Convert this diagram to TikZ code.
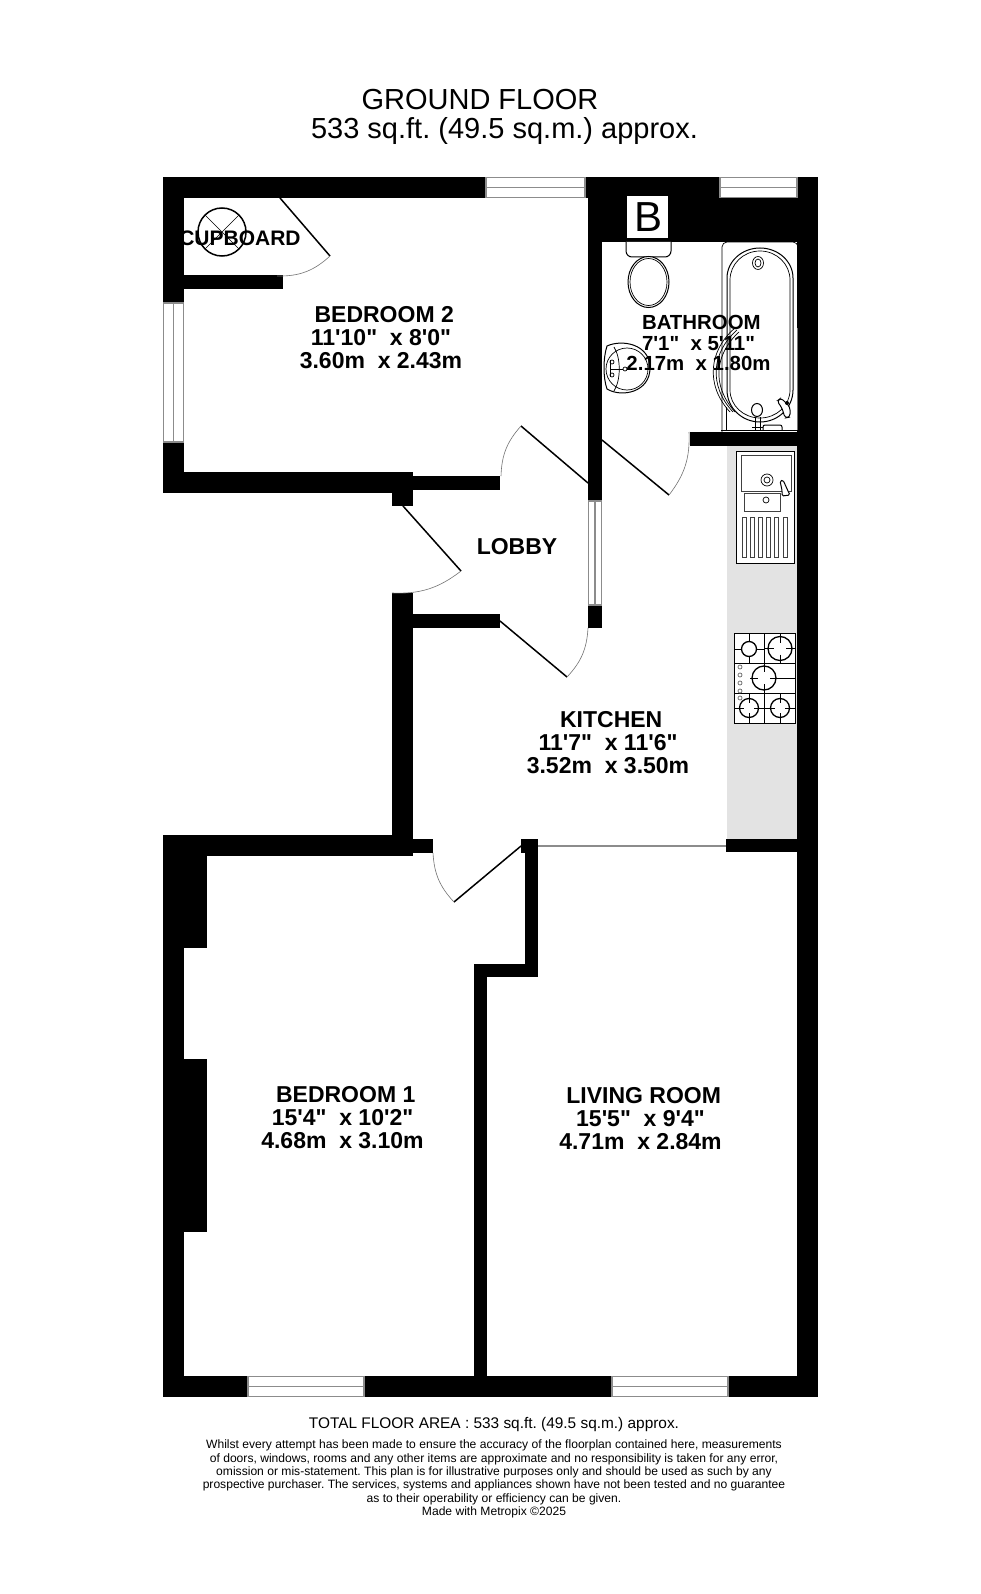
\documentclass[tikz,border=0pt]{standalone}
\usepackage{fontspec}
\newfontfamily\planfont{Liberation Sans}
\tikzset{
	wall/.style    = {fill=black},
	window/.style  = {draw=black!45, fill=white, line width=1.4pt},
	sill/.style    = {draw=black!45, line width=1.4pt},
	leaf/.style    = {draw=black, line width=1.5pt},
	swing/.style   = {draw=black!55, line width=0.6pt},
	fitting/.style = {draw=black, line width=1pt, fill=white},
	thin fit/.style= {draw=black, line width=0.7pt},
	room/.style    = {font=\planfont\bfseries\fontsize{23}{23}\selectfont, align=center, inner sep=0pt},
	small room/.style = {room, font=\planfont\bfseries\fontsize{20.4}{20.5}\selectfont},
	title/.style   = {font=\planfont\fontsize{29}{30}\selectfont, inner sep=0pt},
	note/.style    = {font=\planfont\fontsize{12.1}{13.4}\selectfont, align=center, inner sep=0pt}
}
\begin{document}
\frenchspacing
\begin{tikzpicture}[x=1pt, y=-1pt]
	\useasboundingbox (0,0) rectangle (980,1594);
	\fill[white] (0,0) rectangle (980,1594);
	% worktop
	\fill[black!11] (727,446) rectangle (797,839);
	% outer walls
	\fill[wall] (163,177) rectangle (818,198);
	\fill[wall] (163,177) rectangle (184,493);
	\fill[wall] (163,835) rectangle (184,1397);
	\fill[wall] (797,177) rectangle (818,1397);
	\fill[wall] (163,1376) rectangle (818,1397);
	% bedroom 2
	\fill[wall] (184,275) rectangle (283,289);
	\fill[wall] (163,472) rectangle (413,493);
	\fill[wall] (392,472) rectangle (413,506);
	\fill[wall] (413,476) rectangle (500,490);
	% bathroom and lobby
	\fill[wall] (588,177) rectangle (602,628);
	\fill[wall] (588,177) rectangle (818,242);
	\fill[wall] (690,432) rectangle (818,446);
	\fill[wall] (392,593) rectangle (413,856);
	\fill[wall] (413,614) rectangle (500,628);
	% bedroom 1 and living room
	\fill[wall] (163,835) rectangle (413,856);
	\fill[wall] (413,839) rectangle (433,853);
	\fill[wall] (184,856) rectangle (207,948);
	\fill[wall] (184,1059) rectangle (207,1232);
	\fill[wall] (521,839) rectangle (538,853);
	\fill[wall] (525,839) rectangle (538,977);
	\fill[wall] (474,964) rectangle (538,977);
	\fill[wall] (474,964) rectangle (487,1397);
	\fill[wall] (726,839) rectangle (797,852);
	\draw[sill] (538,846) -- (726,846);
	% windows
	\foreach \xa/\xb/\ya/\yb in {486/585/177.6/197.4, 720/797/177.6/197.4, 248/364/1376.6/1396.4, 612/728/1376.6/1396.4} {
		\draw[window] (\xa,\ya) rectangle (\xb,\yb);
		\draw[sill] (\xa,{(\ya+\yb)/2}) -- (\xb,{(\ya+\yb)/2});
	}
	\foreach \xa/\xb/\ya/\yb in {163.6/183.4/303/442, 588.6/601.4/501/605} {
		\draw[window] (\xa,\ya) rectangle (\xb,\yb);
		\draw[sill] ({(\xa+\xb)/2},\ya) -- ({(\xa+\xb)/2},\yb);
	}
	% doors
	\draw[leaf] (280,198) -- (330,256);
	\draw[swing] (330,256) to[bend left=22] (277,276);
	\draw[leaf] (588,483) -- (521,426);
	\draw[swing] (521,426) to[bend right=20] (501,476);
	\draw[leaf] (602,440) -- (669,495);
	\draw[swing] (669,495) to[bend right=20] (689,432);
	\draw[leaf] (403,506) -- (461,571);
	\draw[swing] (461,571) to[bend left=20] (392,593);
	\draw[leaf] (500,621) -- (567,677);
	\draw[swing] (567,677) to[bend right=20] (588,628);
	\draw[leaf] (521,846) -- (454,902);
	\draw[swing] (454,902) to[bend left=20] (433,853);
	% boiler and cupboard tank
	\draw[line width=1.5pt] (222,232) circle (24);
	\draw[line width=0.7pt] (205,215) -- (239,249) (239,215) -- (205,249);
	\fill[white] (627,196) rectangle (668,238);
	\node[font=\planfont\fontsize{42}{42}\selectfont, inner sep=0pt] (boiler) at (648,217) {B};
	% toilet
	\draw[fitting, rounded corners=6pt] (626,242) -- (626,257) -- (671,257) -- (671,242);
	\draw[fitting] (648.5,282) ellipse (20.5 and 25.5);
	\draw[thin fit] (648.5,282) ellipse (18.5 and 23.5);
	% basin
	\draw[fitting] (607,346) .. controls (622,339) and (650,344) .. (650,368) .. controls (650,392) and (622,398) .. (607,389) .. controls (603,378) and (603,358) .. (607,346) -- cycle;
	\draw[thin fit] (627,369) circle (21);
	\draw[thin fit] (614,347) .. controls (621,358) and (621,380) .. (614,391);
	\draw[thin fit] (610,369) -- (623,369);
	\draw[thin fit, fill=white] (612,362) circle (2) (612,375) circle (2) (625,369) circle (2);
	\draw[thin fit] (610,360) -- (610,377);
	% bath
	\draw[thin fit, rounded corners=5pt] (722,432) -- (722,242) -- (798,242) -- (798,432);
	\draw[fitting] (727,278) arc[start angle=180, end angle=360, x radius=33, y radius=30] -- (793,390) arc[start angle=0, end angle=180, x radius=33, y radius=32] -- cycle;
	\draw[thin fit] (730,280) arc[start angle=180, end angle=360, x radius=30, y radius=29] -- (790,390) arc[start angle=0, end angle=180, x radius=30, y radius=28] -- cycle;
	\draw[thin fit] (758,263) ellipse (5.5 and 6.5) (758,263) ellipse (3 and 4);
	\draw[fitting] (757,410) ellipse (5.5 and 6.5);
	\draw[thin fit] (755,417) -- (755,430) (760,417) -- (760,430) (752,427) -- (763,427);
	\draw[fitting, rounded corners=2pt] (763,430) -- (763,425) -- (782,425) -- (782,430);
	\draw[fitting, rounded corners=3pt] (777,401) -- (781,398) -- (790,407) -- (790,417) -- (785,418) -- (782,408) -- cycle;
	\fill (787,403) circle (2);
	\draw[thin fit] (726,407) -- (726,430);
	\draw[line width=1.2pt] (721,430.5) -- (797,430.5);
	\draw[draw=black!55, line width=0.9pt] (797,328) -- (797,430);
	\draw[thin fit] (737,330) .. controls (712,352) and (708,385) .. (733,412);
	\draw[thin fit] (739,332) .. controls (715,354) and (711,385) .. (735,412);
	\draw[thin fit] (735,328) .. controls (709,350) and (705,385) .. (730,412);
	% sink
	\draw[fitting] (736,451) rectangle (794,563);
	\draw[thin fit, draw=black!75, line width=1pt] (741,455) rectangle (791,491);
	\draw[thin fit, draw=black!75, line width=1pt] (744,493) rectangle (780,511);
	\draw[thin fit] (767,480) circle (6) (767,480) circle (3) (766,500) circle (3);
	\draw[fitting, rounded corners=1.5pt] (780,481) -- (783,480) -- (788,491) -- (790,495) -- (782,496) -- (782,490) -- cycle;
	\foreach \xa in {742,750,758,766,774,783} {
		\draw[thin fit, draw=black!75] (\xa,517) rectangle ++(4,40);
	}
	% hob
	\draw[fitting] (734,633) rectangle (795.5,723);
	\draw[thin fit] (764,633) -- (764,663) (764,693) -- (764,723) (734,663) -- (795.5,663) (734,693) -- (795.5,693);
	\foreach \cx/\cy/\rad/\tick/\xl/\xr/\yt/\yb in {749/649/7.5/7.5/734/764/633/663, 780/648.5/12/6/764/795/633/663, 764/678/12/6/750/795/663/693, 749/708/9.5/5/734/764/693/723, 780/708/9.5/5/764/795/693/723} {
		\draw[thin fit, line width=0.9pt] (\xl,\cy) -- ({\cx-\tick},\cy) ({\cx+\tick},\cy) -- (\xr,\cy) (\cx,\yt) -- (\cx,{\cy-\tick}) (\cx,{\cy+\tick}) -- (\cx,\yb);
		\draw[line width=1.3pt] (\cx,\cy) circle (\rad);
	}
	\foreach \ya in {667,675,683,691,698} {
		\draw[draw=black!60, line width=0.7pt, fill=white] (740,\ya) circle (2);
	}
	% titles
	\node[title] (ground) at (480,100) {GROUND FLOOR};
	\node[title] (area) at (504.5,131.5) {533 sq.ft. (49.5 sq.m.) approx.};
	% rooms
	\node[room, font=\planfont\bfseries\fontsize{21}{23}\selectfont] (cupboard) at (240,238) {CUPBOARD};
	\node[room] (bedroomtwo) at (381,338) {\ BEDROOM 2\\11'10"\ \ x 8'0"\\3.60m\ \ x 2.43m};
	\node[small room] (bathroom) at (698.5,343) {\ BATHROOM\\7'1"\ \ x 5'11"\\2.17m\ \ x 1.80m};
	\node[room] (lobby) at (517,546.5) {LOBBY};
	\node[room] (kitchen) at (608,743) {\ KITCHEN\\11'7"\ \ x 11'6"\\3.52m\ \ x 3.50m};
	\node[room] (bedroomone) at (342.5,1118) {\ BEDROOM 1\\15'4"\ \ x 10'2"\\4.68m\ \ x 3.10m};
	\node[room] (living) at (640.5,1119) {\ LIVING ROOM\\15'5"\ \ x 9'4"\\4.71m\ \ x 2.84m};
	% footer
	\node[font=\planfont\fontsize{15.4}{18}\selectfont, inner sep=0pt] (total) at (494,1425) {TOTAL FLOOR AREA : 533 sq.ft. (49.5 sq.m.) approx.};
	\node[note] (disclaimer) at (494,1479) {Whilst every attempt has been made to ensure the accuracy of the floorplan contained here, measurements\\of doors, windows, rooms and any other items are approximate and no responsibility is taken for any error,\\omission or mis-statement. This plan is for illustrative purposes only and should be used as such by any\\prospective purchaser. The services, systems and appliances shown have not been tested and no guarantee\\as to their operability or efficiency can be given.\\Made with Metropix ©2025};
\end{tikzpicture}
\end{document}
